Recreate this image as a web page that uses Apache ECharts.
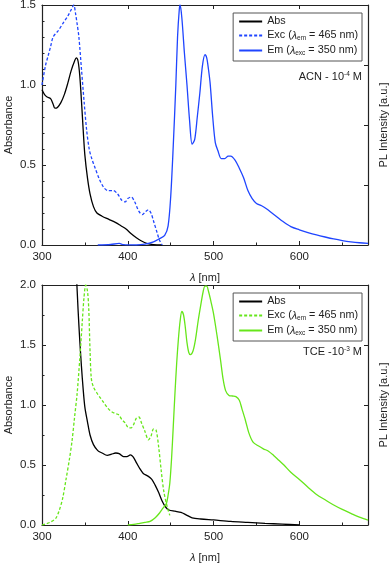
<!DOCTYPE html>
<html><head><meta charset="utf-8">
<script src="https://cdn.jsdelivr.net/npm/echarts@6/dist/echarts.min.js"></script>
<style>html,body{margin:0;padding:0;background:#fff}#c{width:392px;height:565px}</style>
</head><body><div id="c"></div>
<script>
// ---- data (wavelength nm, normalized value) ----
const acnAbs = [[300,0.97],[303,0.94],[306,0.925],[310,0.915],[313,0.88],[315,0.855],[318,0.86],[322,0.89],[326,0.94],[330,1.01],[334,1.09],[338,1.15],[340,1.17],[342,1.15],[344,1.06],[346,0.9],[348,0.72],[350,0.56],[353,0.42],[356,0.32],[360,0.24],[364,0.2],[370,0.18],[378,0.16],[386,0.14],[392,0.12],[398,0.1],[404,0.07],[410,0.045],[416,0.025],[422,0.01],[430,0.002],[440,0]];
const acnExc = [[300,1.0],[304,1.12],[307,1.18],[310,1.24],[313,1.3],[319,1.34],[325,1.39],[330,1.43],[334,1.47],[337,1.5],[339,1.45],[341,1.38],[343,1.3],[346,1.1],[349,0.9],[352,0.72],[355,0.6],[358,0.54],[362,0.48],[367,0.41],[372,0.36],[377,0.34],[383,0.34],[388,0.32],[393,0.28],[397,0.27],[400,0.29],[404,0.3],[408,0.27],[413,0.21],[417,0.19],[421,0.21],[424,0.22],[427,0.2],[430,0.15],[434,0.08],[437,0.03],[440,0]];
const acnEm = [[365,0],[380,0.003],[390,0.01],[395,0.002],[410,0],[420,0.005],[430,0.02],[437,0.04],[443,0.06],[447,0.12],[450,0.3],[453,0.62],[456,1.0],[458,1.3],[460,1.47],[461,1.5],[463,1.42],[466,1.2],[469,1.0],[472,0.78],[475,0.63],[478,0.66],[481,0.8],[484,0.95],[487,1.12],[490,1.19],[492,1.17],[494,1.1],[496,1.01],[499,0.8],[502,0.64],[505,0.59],[509,0.54],[513,0.54],[517,0.555],[520,0.555],[525,0.53],[530,0.48],[535,0.42],[540,0.34],[545,0.29],[550,0.26],[556,0.245],[562,0.225],[568,0.2],[574,0.175],[580,0.15],[590,0.115],[600,0.095],[610,0.078],[620,0.063],[630,0.05],[640,0.038],[650,0.028],[660,0.02],[670,0.014],[680,0.01]];
const tceAbs = [[330,3.2],[336,2.6],[340,2.1],[342,1.8],[344,1.54],[346,1.32],[348,1.13],[350,0.98],[353,0.86],[356,0.75],[360,0.67],[365,0.62],[370,0.6],[376,0.58],[381,0.59],[386,0.6],[390,0.595],[395,0.57],[399,0.57],[403,0.585],[406,0.57],[410,0.52],[414,0.47],[418,0.43],[424,0.405],[428,0.38],[432,0.33],[436,0.27],[440,0.2],[444,0.15],[448,0.125],[455,0.115],[462,0.105],[468,0.085],[475,0.06],[485,0.05],[500,0.042],[520,0.03],[540,0.022],[560,0.014],[580,0.007],[600,0]];
const tceExc = [[300,0],[305,0.01],[310,0.025],[316,0.055],[320,0.12],[324,0.22],[328,0.38],[332,0.55],[335,0.7],[338,0.9],[341,1.1],[344,1.38],[347,1.7],[349,1.9],[351,2.0],[353,1.95],[354.5,1.8],[356,1.45],[357.5,1.22],[360,1.15],[364,1.1],[368,1.06],[372,1.02],[376,0.98],[380,0.95],[385,0.93],[389,0.92],[393,0.88],[397,0.85],[401,0.81],[404,0.81],[407,0.84],[410,0.89],[413,0.9],[416,0.85],[420,0.78],[424,0.71],[427,0.74],[430,0.8],[433,0.79],[436,0.65],[439,0.45],[442,0.28],[446,0.15],[449,0.08]];
const tceEm = [[400,0],[407,0.005],[414,0.014],[420,0.022],[426,0.03],[432,0.06],[437,0.1],[441,0.14],[445,0.18],[447,0.25],[449,0.35],[451,0.55],[453,0.82],[455,1.1],[457,1.35],[459,1.55],[461,1.7],[463,1.78],[465,1.75],[467,1.65],[469,1.52],[471,1.44],[473,1.42],[476,1.45],[479,1.55],[482,1.7],[485,1.83],[488,1.95],[490,1.99],[492,1.99],[494,1.95],[497,1.86],[500,1.76],[504,1.58],[508,1.38],[511,1.22],[514,1.12],[518,1.08],[522,1.075],[526,1.07],[530,1.04],[533,0.97],[537,0.875],[541,0.77],[546,0.69],[552,0.66],[558,0.635],[564,0.615],[570,0.58],[576,0.54],[582,0.5],[590,0.44],[600,0.38],[610,0.315],[620,0.255],[630,0.21],[640,0.167],[650,0.13],[660,0.097],[670,0.065],[680,0.04]];

const xTicks = [300, 400, 500, 600];
const legendLabels = {
  abs: '{t|Abs}',
  exc: '{t|Exc (}{i|λ}{s|em}{t| = 465 nm)}',
  em: '{t|Em (}{i|λ}{s|exc}{t| = 350 nm)}'
};
const labelTop = 'ACN - 10{p|-4} M';
const labelBottom = 'TCE -10{p|-3} M';

const FONT = '"Liberation Sans", Arial, sans-serif';
const BLUE = '#1f45ff';
const GREEN = '#66e61a';
const AX = '#222';

const chart = echarts.init(document.getElementById('c'));

function xAxes(gi) {
  return [{
    gridIndex: gi, type: 'value', min: 300, max: 680, interval: 100, position: 'bottom',
    axisLine: {show: true, onZero: false, lineStyle: {color: AX, width: 1.2}},
    axisTick: {inside: true, length: 4, lineStyle: {color: AX}},
    minorTick: {show: true, splitNumber: 2, length: 2.5, lineStyle: {color: AX}},
    axisLabel: {color: AX, fontSize: 11.5, fontFamily: FONT, margin: 6,
      formatter: v => xTicks.includes(v) ? String(v) : ''},
    splitLine: {show: false},
    name: '{i|λ} [nm]', nameLocation: 'middle', nameGap: 27,
    nameTextStyle: {color: AX, fontSize: 11, fontFamily: FONT,
      rich: {i: {fontStyle: 'italic', fontSize: 11, fontFamily: FONT, color: AX}}}
  }, {
    gridIndex: gi, type: 'value', min: 300, max: 680, interval: 100, position: 'top',
    axisLine: {show: true, onZero: false, lineStyle: {color: AX, width: 1.2}},
    axisTick: {inside: true, length: 4, lineStyle: {color: AX}},
    minorTick: {show: false},
    axisLabel: {show: false}, splitLine: {show: false}
  }];
}
function yAxes(gi, max, interval, minorSplit) {
  return [{
    gridIndex: gi, type: 'value', min: 0, max: max, interval: interval, position: 'left',
    axisLine: {show: true, onZero: false, lineStyle: {color: AX, width: 1.2}},
    axisTick: {inside: true, length: 4, lineStyle: {color: AX}},
    minorTick: {show: true, splitNumber: minorSplit, length: 2.5, lineStyle: {color: AX}},
    axisLabel: {color: AX, fontSize: 11.5, fontFamily: FONT, margin: 6, formatter: v => v.toFixed(1)},
    splitLine: {show: false},
    name: 'Absorbance', nameLocation: 'middle', nameGap: 28, nameMoveOverlap: false,
    nameTextStyle: {color: AX, fontSize: 11, fontFamily: FONT}
  }, {
    gridIndex: gi, type: 'value', min: 0, max: 4, interval: 1, position: 'right',
    axisLine: {show: true, onZero: false, lineStyle: {color: AX, width: 1.2}},
    axisTick: {inside: true, length: 4, lineStyle: {color: AX}},
    axisLabel: {show: false}, splitLine: {show: false},
    name: 'PL Intensity [a.u.]', nameLocation: 'middle', nameGap: 10, nameRotate: 90, nameMoveOverlap: false,
    nameTextStyle: {color: AX, fontSize: 11, fontFamily: FONT}
  }];
}
function line(name, data, xi, yi, color, dashed) {
  return {
    name: name, type: 'line', xAxisIndex: xi, yAxisIndex: yi, data: data,
    symbol: 'none', smooth: 0.3, clip: true, animation: false,
    lineStyle: {color: color, width: 1.3, type: dashed ? [3, 2] : 'solid'},
    itemStyle: {color: color}
  };
}
const legendRich = {
  t: {fontSize: 10.8, fontFamily: FONT, color: AX},
  i: {fontSize: 10.8, fontFamily: FONT, color: AX, fontStyle: 'italic'},
  s: {fontSize: 6.5, fontFamily: FONT, color: AX, padding: [6, 0, 0, 0]}
};
const nameMap = {Abs1: 'abs', Exc1: 'exc', Em1: 'em', Abs2: 'abs', Exc2: 'exc', Em2: 'em'};
function legend(top, names) {
  return {
    data: names, orient: 'vertical', right: 30, top: top, itemGap: 3,
    itemWidth: 23, itemHeight: 12, padding: [3, 4, 4, 5],
    borderColor: '#555', borderWidth: 1, backgroundColor: '#fff',
    selectedMode: false,
    itemStyle: {opacity: 0},
    formatter: n => legendLabels[nameMap[n]],
    textStyle: {rich: legendRich, fontSize: 10.8, fontFamily: FONT, color: AX}
  };
}

chart.setOption({
  animation: false,
  grid: [
    {left: 42, top: 5, width: 326, height: 240, outerBoundsMode: 'none', containLabel: false},
    {left: 42, top: 285, width: 326, height: 240, outerBoundsMode: 'none', containLabel: false}
  ],
  xAxis: [...xAxes(0), ...xAxes(1)],
  yAxis: [...yAxes(0, 1.5, 0.5, 5), ...yAxes(1, 2.0, 0.5, 2)],
  legend: [legend(13, ['Abs1', 'Exc1', 'Em1']), legend(293, ['Abs2', 'Exc2', 'Em2'])],
  series: [
    line('Abs1', acnAbs, 0, 0, '#000', false),
    line('Exc1', acnExc, 0, 0, BLUE, true),
    line('Em1', acnEm, 0, 0, BLUE, false),
    line('Abs2', tceAbs, 2, 2, '#000', false),
    line('Exc2', tceExc, 2, 2, GREEN, true),
    line('Em2', tceEm, 2, 2, GREEN, false)
  ],
  graphic: [
    {type: 'text', x: 362, y: 77, style: {text: labelTop, fill: AX, font: '11px ' + FONT,
      align: 'right', verticalAlign: 'middle',
      rich: {p: {fontSize: 6.5, fontFamily: FONT, fill: AX, padding: [0, 0, 6, 0]}}}},
    {type: 'text', x: 362, y: 352, style: {text: labelBottom, fill: AX, font: '11px ' + FONT,
      align: 'right', verticalAlign: 'middle',
      rich: {p: {fontSize: 6.5, fontFamily: FONT, fill: AX, padding: [0, 0, 6, 0]}}}}
  ]
});
</script></body></html>
